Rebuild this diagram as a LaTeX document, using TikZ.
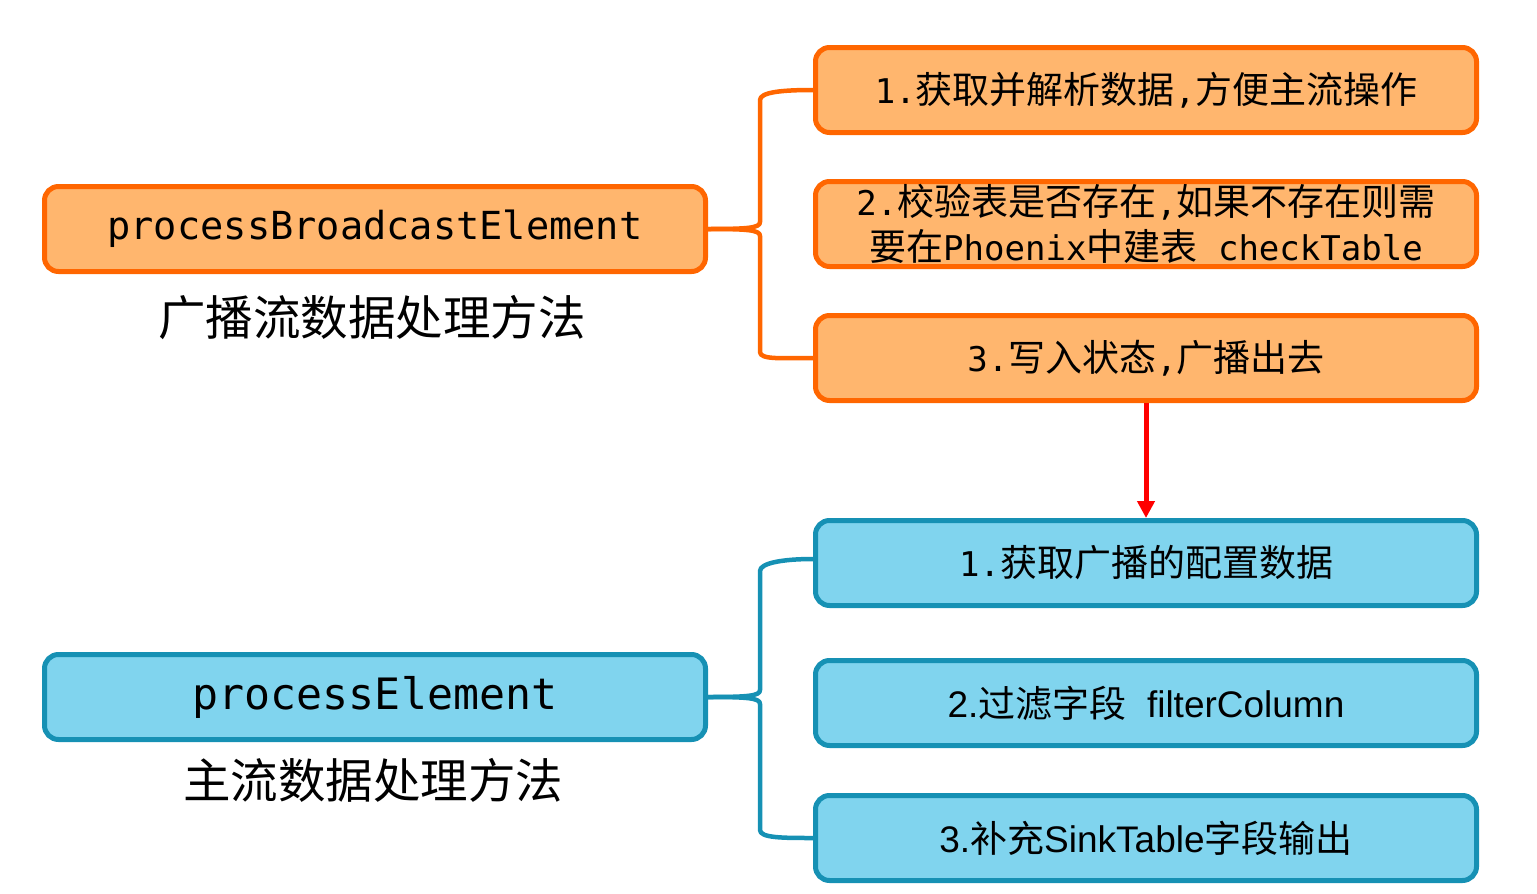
\documentclass[tikz,border=0pt]{standalone}
\usepackage{fontspec}
\setmainfont{Liberation Sans}
\newfontfamily\cjk{Noto Sans CJK SC}
\newfontfamily\mono[Scale=0.92]{DejaVu Sans Mono}
\usetikzlibrary{arrows.meta,calc}

\newcommand\zh[1]{{\cjk #1}}
\newcommand\mo[1]{{\mono #1}}

\definecolor{naranja}{RGB}{255,182,110}
\definecolor{naranjaborde}{RGB}{255,102,0}
\definecolor{celeste}{RGB}{128,212,238}
\definecolor{celesteborde}{RGB}{22,145,180}

\tikzset{
  caja/.style={rounded corners=14pt, line width=5pt, minimum width=661pt,
    minimum height=85pt, inner sep=0pt, align=center,
    font=\fontsize{37}{45}\selectfont},
  cajanar/.style={caja, draw=naranjaborde, fill=naranja},
  cajacel/.style={caja, draw=celesteborde, fill=celeste},
  etiqueta/.style={font=\cjk\fontsize{47.5}{50}\selectfont},
  llave/.style={line width=4.5pt, line join=round},
  flecha/.style={line width=5pt, draw=red, -{Triangle[length=17pt,width=17pt]}},
}

\begin{document}
\begin{tikzpicture}[x=1pt,y=-1pt]

      % Marco de la figura
      \useasboundingbox (0,0) rectangle (1537,894);

      % Parámetros
      \def\xizq{375} % Centro de las cajas de la izquierda
      \def\xder{1146} % Centro de las cajas de la derecha

      % Cajas del flujo de difusión
      \node[cajanar] (pb) at (\xizq,229) {\mo{\fontsize{42}{45}\selectfont processBroadcastElement}};
      \node[etiqueta] (lb) at (372,318) {广播流数据处理方法};
      \node[cajanar] (o1) at (\xder,90) {\mo{1.}\zh{获取并解析数据}\mo{,}\zh{方便主流操作}};
      \node[cajanar] (o2) at (\xder,224) {\mo{2.}\zh{校验表是否存在}\mo{,}\zh{如果不存在则需}\\
        \zh{要在}\mo{Phoenix}\zh{中建表}\mo{\ checkTable}};
      \node[cajanar] (o3) at (\xder,358) {\mo{3.}\zh{写入状态}\mo{,}\zh{广播出去}};

      % Cajas del flujo principal
      \node[cajacel] (pe) at (\xizq,697) {\mo{\fontsize{47}{50}\selectfont processElement}};
      \node[etiqueta] (le) at (373,780) {主流数据处理方法};
      \node[cajacel] (b1) at (\xder,563) {\mo{1.}\zh{获取广播的配置数据}};
      \node[cajacel] (b2) at (\xder,703) {2.\zh{过滤字段}\ \ filterColumn};
      \node[cajacel] (b3) at (\xder,838) {3.\zh{补充}SinkTable\zh{字段输出}};

      % Eje vertical de las llaves
      \coordinate (bx) at (760,0);

      % Llave naranja
      \draw[llave, naranjaborde] (pb.east) .. controls +(40,0) and +(0,6) .. ($(bx |- pb.east)+(0,-7)$)
        -- ($(bx |- o1.west)+(0,10)$) .. controls +(0,-8) and +(-30,0) .. (o1.west);
      \draw[llave, naranjaborde] (pb.east) .. controls +(40,0) and +(0,-6) .. ($(bx |- pb.east)+(0,7)$)
        -- ($(bx |- o3.west)+(0,-6)$) .. controls +(0,8) and +(-30,0) .. (o3.west);

      % Llave celeste
      \draw[llave, celesteborde] (pe.east) .. controls +(40,0) and +(0,6) .. ($(bx |- pe.east)+(0,-7)$)
        -- ($(bx |- b1.west)+(0,8)$) .. controls +(0,-8) and +(-30,0) .. ($(b1.west)+(0,-4)$);
      \draw[llave, celesteborde] (pe.east) .. controls +(40,0) and +(0,-6) .. ($(bx |- pe.east)+(0,7)$)
        -- ($(bx |- b3.west)+(0,-8)$) .. controls +(0,8) and +(-30,0) .. (b3.west);

      % Flecha entre los dos flujos
      \draw[flecha] (o3.south) -- (b1.north);

    \end{tikzpicture}
\end{document}
